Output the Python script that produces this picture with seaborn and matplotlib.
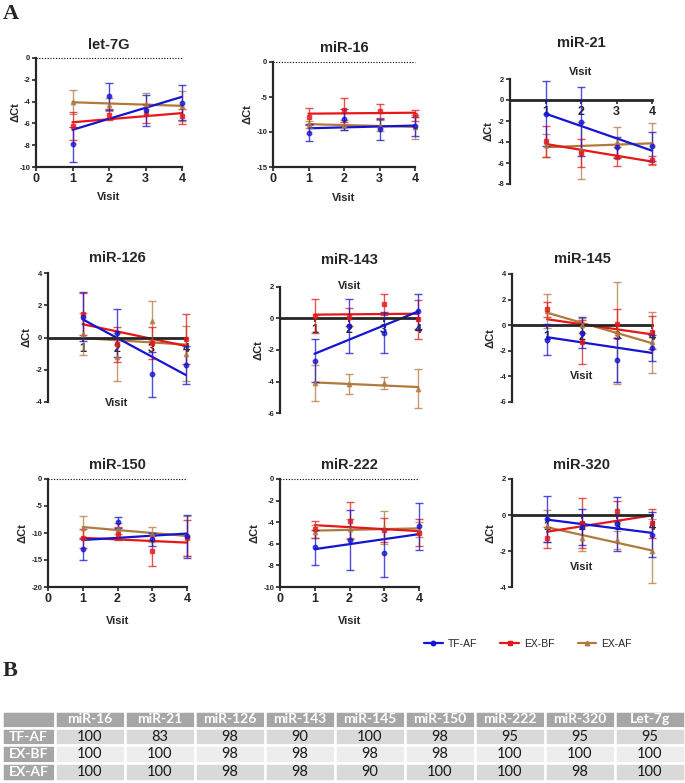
import numpy as np
import pandas as pd
import matplotlib
matplotlib.use("Agg")
import matplotlib.pyplot as plt
import seaborn as sns
from matplotlib.lines import Line2D

# ---------------- data ----------------
visits = [1, 2, 3, 4]
panels = ["let-7G", "miR-16", "miR-21", "miR-126", "miR-143",
          "miR-145", "miR-150", "miR-222", "miR-320"]
series_names = ["TF-AF", "EX-BF", "EX-AF"]

tf_af_mean = [
    [-7.9, -3.5, -4.8, -4.1],
    [-10.1, -8.2, -9.6, -9.2],
    [-1.3, -2.05, -4.5, -4.4],
    [1.3, 0.27, -2.27, -1.7],
    [-2.67, -0.48, -0.9, 0.45],
    [-1.13, -0.58, -2.7, -1.79],
    [-13.0, -8.0, -11.2, -10.6],
    [-6.33, -5.65, -6.83, -4.39],
    [-0.24, -0.65, -0.5, -1.11],
]
tf_af_err = [
    [1.6, 1.25, 1.4, 1.6],
    [1.2, 1.5, 1.5, 1.3],
    [3.1, 3.3, 1.0, 1.4],
    [1.5, 1.5, 1.4, 1.2],
    [1.35, 1.7, 1.3, 1.1],
    [1.2, 1.2, 1.7, 1.0],
    [2.0, 1.0, 1.2, 4.0],
    [1.6, 2.8, 2.2, 2.2],
    [1.28, 1.0, 1.48, 1.25],
]
ex_bf_mean = [
    [-6.25, -5.2, -5.1, -5.35],
    [-7.8, -6.85, -7.0, -7.6],
    [-3.95, -5.05, -5.4, -5.7],
    [1.45, -0.42, -0.35, -0.08],
    [0.15, 0.1, 0.9, -0.05],
    [1.23, -1.3, 0.13, -0.56],
    [-11.0, -10.1, -13.35, -10.9],
    [-4.66, -3.85, -4.7, -4.99],
    [-1.25, -0.43, 0.24, -0.46],
]
ex_bf_err = [
    [1.3, 0.5, 0.9, 0.7],
    [1.25, 1.7, 1.0, 0.8],
    [1.45, 1.3, 0.9, 0.35],
    [1.3, 1.1, 1.0, 1.55],
    [1.1, 0.55, 0.68, 1.25],
    [0.6, 1.7, 1.15, 1.3],
    [1.7, 1.2, 2.8, 3.3],
    [0.8, 1.7, 1.1, 1.25],
    [0.6, 1.4, 0.55, 0.8],
]
ex_af_mean = [
    [-4.0, -4.3, -4.2, -4.4],
    [-8.9, -9.0, -9.1, -9.3],
    [-4.3, -4.8, -4.0, -4.15],
    [0.2, -1.2, 1.05, -1.0],
    [-4.1, -4.17, -4.1, -4.45],
    [1.1, 0.0, -0.6, -1.35],
    [-9.0, -9.2, -10.2, -10.5],
    [-4.9, -4.6, -4.5, -4.7],
    [-0.6, -1.3, -1.4, -2.0],
]
ex_af_err = [
    [1.1, 0.6, 1.0, 1.4],
    [0.5, 0.7, 0.8, 1.7],
    [1.1, 2.7, 1.4, 2.0],
    [1.3, 1.5, 1.2, 1.7],
    [1.15, 0.65, 0.4, 1.25],
    [1.3, 0.6, 4.0, 2.4],
    [2.1, 1.0, 1.4, 3.7],
    [0.6, 0.9, 1.5, 0.7],
    [0.9, 0.7, 0.5, 1.8],
]

table_cols = ["miR-16", "miR-21", "miR-126", "miR-143", "miR-145",
              "miR-150", "miR-222", "miR-320", "Let-7g"]
table_rows = ["TF-AF", "EX-BF", "EX-AF"]
tf_af_pct = [100, 83, 98, 90, 100, 98, 95, 95, 95]
ex_bf_pct = [100, 100, 98, 98, 98, 98, 100, 100, 100]
ex_af_pct = [100, 100, 98, 98, 90, 100, 100, 98, 100]

# ---------------- style ----------------
sns.set_style("ticks")
plt.rcParams["font.family"] = ["Liberation Sans", "DejaVu Sans"]
plt.rcParams["axes.unicode_minus"] = False

W, H = 685, 783
fig = plt.figure(figsize=(W / 100, H / 100), dpi=100)


def fx(x):
    return x / W


def fy(y):
    return 1 - y / H


colors = {"TF-AF": "#1414d2", "EX-BF": "#e81616", "EX-AF": "#b07a3e"}
markers = {"TF-AF": "o", "EX-BF": "s", "EX-AF": "^"}

# axes boxes in pixels: x0, x1, ytop, ybottom
boxes = [
    (36, 182, 58, 167), (273, 415, 62, 167), (510, 652, 79, 184),
    (48, 186, 273, 402), (280, 418, 287, 413), (512, 652, 274, 402),
    (48, 187, 479, 587), (280, 419, 479, 587), (512, 652, 479, 587),
]
ylims = [(-10, 0), (-15, 0), (-8, 2), (-4, 4), (-6, 2), (-6, 4),
         (-20, 0), (-10, 0), (-4, 2)]
ysteps = [2, 5, 2, 2, 2, 2, 5, 2, 2]
title_y = [45, 48, 43, 258, 260, 259, 465, 465, 465]
ylabel_pad = [-1, 3, 3, 3, 3, 3, 3, 3, 3]
# Visit label pixel positions for panels whose x axis sits at zero
visit_pos = {2: (581, 72), 3: (117, 403), 4: (350, 286), 5: (582, 376), 8: (582, 567)}
xlabel_pad = {0: 5, 1: 6, 6: 8, 7: 8}

means_all = {"TF-AF": tf_af_mean, "EX-BF": ex_bf_mean, "EX-AF": ex_af_mean}
errs_all = {"TF-AF": tf_af_err, "EX-BF": ex_bf_err, "EX-AF": ex_af_err}

for i, name in enumerate(panels):
    x0, x1, yt, yb = boxes[i]
    ax = fig.add_axes([fx(x0), fy(yb), (x1 - x0) / W, (yb - yt) / H])
    for s in ["EX-AF", "EX-BF", "TF-AF"]:
        m = means_all[s][i]
        e = errs_all[s][i]
        df = pd.DataFrame({"Visit": visits, "dCt": m})
        sns.regplot(data=df, x="Visit", y="dCt", ax=ax, scatter=False, ci=None,
                    truncate=True, color=colors[s], line_kws=dict(lw=1.6, clip_on=False))
        ax.errorbar(visits, m, yerr=e, fmt=markers[s], color=colors[s], ms=3.2,
                    capsize=2.6, elinewidth=1.0, capthick=1.0, alpha=0.75,
                    clip_on=False, zorder=3)
    lo, hi = ylims[i]
    ax.set_xlim(0, 4)
    ax.set_ylim(lo, hi)
    ax.set_yticks(np.arange(lo, hi + 0.01, ysteps[i]))
    for sp in ["top", "right"]:
        ax.spines[sp].set_visible(False)
    ax.spines["left"].set_linewidth(1.6)
    ax.tick_params(axis="y", length=3, width=1.2, labelsize=5.5, pad=1)
    for lab in ax.get_yticklabels():
        lab.set_fontweight("bold")
    ax.set_ylabel("\u0394Ct", fontsize=8, fontweight="bold", labelpad=ylabel_pad[i])
    crossing = lo < 0 < hi
    if crossing:
        ax.spines["bottom"].set_position(("data", 0))
        ax.spines["bottom"].set_linewidth(2.0)
        ax.set_xticks([1, 2, 3, 4])
        ax.tick_params(axis="x", length=3, width=1.2, labelsize=9, pad=1)
        ax.set_xlabel("")
        vx, vy = visit_pos[i]
        fig.text(fx(vx), fy(vy), "Visit", ha="center", va="center",
                 fontsize=8, fontweight="bold")
    else:
        ax.spines["bottom"].set_linewidth(1.6)
        ax.set_xticks([0, 1, 2, 3, 4])
        ax.tick_params(axis="x", length=3, width=1.2, labelsize=9, pad=1)
        ax.axhline(0, ls=(0, (1, 1.5)), color="black", lw=0.8, clip_on=False)
        ax.set_xlabel("Visit", fontsize=8, fontweight="bold", labelpad=xlabel_pad[i])
    for lab in ax.get_xticklabels():
        lab.set_fontweight("bold")
    ax.set_facecolor("none")
    fig.text(fx((x0 + x1) / 2), fy(title_y[i]), name, ha="center", va="center",
             fontsize=10.5, fontweight="bold")

# legend
handles = [Line2D([], [], color=colors[s], marker=markers[s], ms=3.2, lw=1.6)
           for s in series_names]
fig.legend(handles, series_names, loc="center", bbox_to_anchor=(fx(528), fy(644)),
           ncol=3, frameon=False, fontsize=7.5, handlelength=1.8, handletextpad=0.5,
           columnspacing=2.2)

# panel letters
fig.text(fx(11), fy(14), "A", ha="center", va="center", fontsize=16,
         fontweight="bold", family="Liberation Serif")
fig.text(fx(10), fy(671), "B", ha="center", va="center", fontsize=16,
         fontweight="bold", family="Liberation Serif")

# table
tax = fig.add_axes([fx(2), fy(781), (685 - 2) / W, (781 - 711) / H])
tax.axis("off")
cell_text = [[""] + table_cols]
for rname, vals in zip(table_rows, [tf_af_pct, ex_bf_pct, ex_af_pct]):
    cell_text.append([rname] + [str(v) for v in vals])
tbl = tax.table(cellText=cell_text, cellLoc="center", bbox=[0, 0, 1, 1])
tbl.auto_set_font_size(False)
col_w = [53] + [70] * 9
row_h = [16, 17, 17, 17]
row_bg = ["#a6a6a6", "#d9d9d9", "#ededed", "#d9d9d9"]
for (r, c), cell in tbl.get_celld().items():
    cell.set_width(col_w[c])
    cell.set_height(row_h[r])
    cell.set_edgecolor("white")
    cell.set_linewidth(1.8)
    txt = cell.get_text()
    txt.set_family(["Lato", "DejaVu Sans"])
    if r == 0 or c == 0:
        cell.set_facecolor("#a6a6a6")
        txt.set_color("white")
        txt.set_fontweight("bold")
        txt.set_fontsize(10)
    else:
        cell.set_facecolor(row_bg[r])
        txt.set_color("#1a1a1a")
        txt.set_fontsize(10.5)

fig.savefig("out.png", dpi=100, facecolor="white")
